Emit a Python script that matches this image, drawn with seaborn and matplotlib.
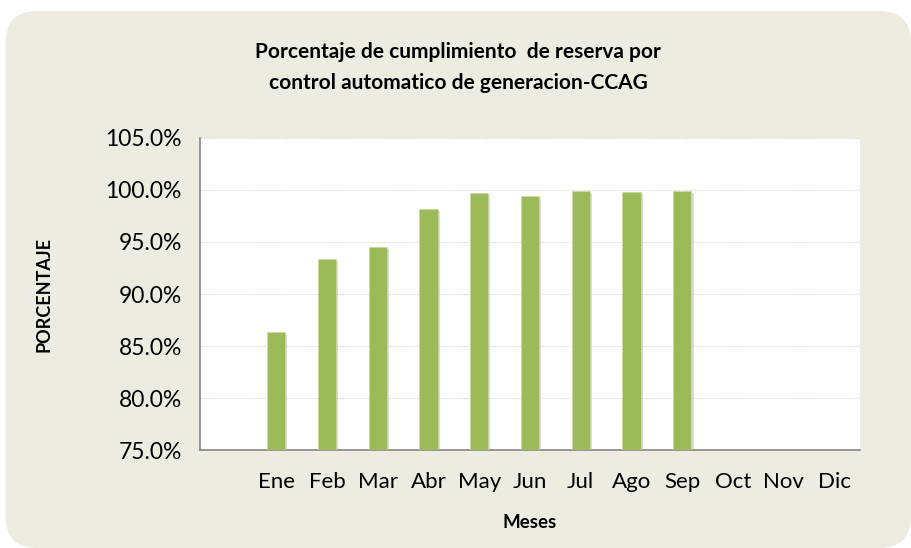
import pandas as pd
import matplotlib.pyplot as plt
import matplotlib.patheffects as pe
from matplotlib.patches import FancyBboxPatch
from matplotlib.ticker import PercentFormatter
import seaborn as sns

sns.set_style("white")
plt.rcParams['font.family'] = ['Lato', 'DejaVu Sans']
plt.rcParams['text.color'] = 'black'
plt.rcParams['xtick.color'] = 'black'
plt.rcParams['ytick.color'] = 'black'
plt.rcParams['axes.labelcolor'] = 'black'

meses = ["Ene", "Feb", "Mar", "Abr", "May", "Jun", "Jul", "Ago", "Sep"]
cumplimiento = [86.3, 93.4, 94.5, 98.2, 99.7, 99.4, 99.9, 99.8, 99.9]
orden = [" ", "Ene", "Feb", "Mar", "Abr", "May", "Jun", "Jul", "Ago", "Sep", "Oct", "Nov", "Dic"]

df = pd.DataFrame({'mes': meses, 'pct': cumplimiento})

fig = plt.figure(figsize=(9.11, 5.48), dpi=100)
fig.patch.set_facecolor('white')
fondo = FancyBboxPatch((0.006, 0.0), 0.994, 0.98, boxstyle="round,pad=0,rounding_size=0.035",
                       transform=fig.transFigure, facecolor='#EEEBE0', edgecolor='none',
                       mutation_aspect=911 / 548, zorder=-5)
fig.patches.append(fondo)

ax = fig.add_axes([0.2195, 0.1788, 0.7245, 0.5694])
ax.set_facecolor('white')

sns.barplot(x='mes', y='pct', data=df, order=orden, color='#9BBB59', saturation=1,
            width=0.36, ax=ax, zorder=3, edgecolor='#C9DAA6', linewidth=0.6)
for bar in ax.patches:
    bar.set_path_effects([pe.SimplePatchShadow(offset=(1.5, -1.5), shadow_rgbFace='#999999', alpha=0.35),
                          pe.Normal()])

ax.set_ylim(75, 105)
ax.set_xlim(-0.5, len(orden) - 0.5)
ax.set_yticks(range(75, 106, 5))
ax.yaxis.set_major_formatter(PercentFormatter(decimals=1))
ax.grid(axis='y', color='#DDDDDD', linestyle=(0, (1.5, 1)), linewidth=0.8, zorder=0)

# ticks en los limites de las categorias, etiquetas en el centro
ax.set_xticks([i - 0.5 for i in range(len(orden) + 1)])
ax.set_xticklabels([])
ax.set_xticks(range(len(orden)), minor=True)
ax.set_xticklabels(orden, minor=True)
ax.tick_params(axis='x', which='major', length=7, width=1.2, color='#868686', direction='out')
ax.tick_params(axis='x', which='minor', length=0, pad=16, labelsize=16)
ax.tick_params(axis='y', length=7, width=1.2, color='#868686', direction='out', labelsize=16.5, pad=6)

for s in ['top', 'right']:
    ax.spines[s].set_visible(False)
for s in ['left', 'bottom']:
    ax.spines[s].set_color('#868686')
    ax.spines[s].set_linewidth(1.2)

ax.set_xlabel('Meses', fontsize=13.5, fontweight='bold', labelpad=16)
ax.set_ylabel('PORCENTAJE', fontsize=13, fontweight='bold', labelpad=38)

fig.text(0.503, 0.905, 'Porcentaje de cumplimiento  de reserva por', ha='center', va='center',
         fontsize=15, fontweight='bold')
fig.text(0.503, 0.848, 'control automatico de generacion-CCAG', ha='center', va='center',
         fontsize=15, fontweight='bold')

plt.savefig('out.png', dpi=100, facecolor=fig.get_facecolor())
